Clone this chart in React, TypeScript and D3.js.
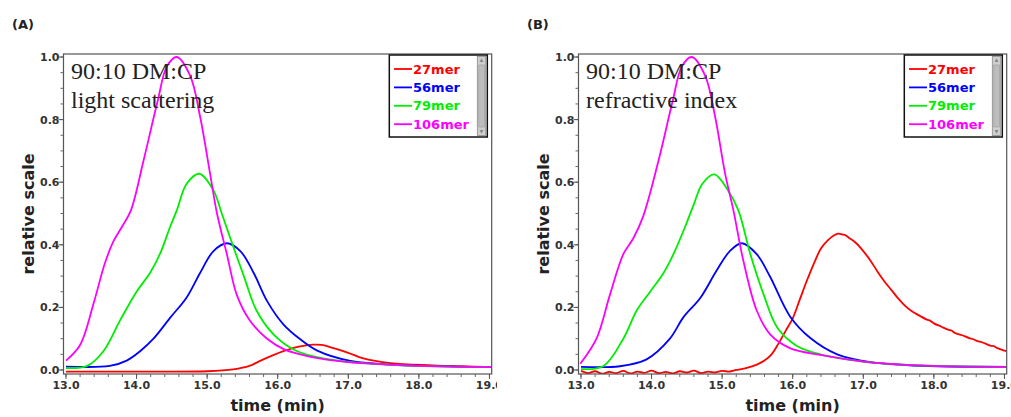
import React from 'react';
import * as d3 from 'd3';

type Pt = [number, number];

// time (min) → relative scale, light scattering (panel A)
const ls27: Pt[] = [[13.0,-0.005],[14.0,-0.005],[15.0,-0.004],[15.37,0.002],[15.6,0.013],[15.75,0.029],[16.08,0.06],[16.3,0.075],[16.5,0.081],[16.62,0.08],[16.79,0.07],[17.0,0.055],[17.2,0.038],[17.6,0.022],[18.2,0.015],[18.6,0.012],[19.03,0.009]];
const ls56: Pt[] = [[13.0,0.011],[13.62,0.013],[13.86,0.03],[14.05,0.06],[14.24,0.10],[14.48,0.168],[14.71,0.232],[14.9,0.31],[15.09,0.38],[15.28,0.405],[15.47,0.38],[15.66,0.31],[15.85,0.22],[16.08,0.146],[16.32,0.098],[16.56,0.062],[17.03,0.029],[17.5,0.019],[17.97,0.014],[18.5,0.011],[19.03,0.009]];
const ls79: Pt[] = [[13.0,0.006],[13.3,0.013],[13.53,0.06],[13.77,0.16],[14.0,0.25],[14.19,0.31],[14.33,0.37],[14.48,0.46],[14.57,0.51],[14.71,0.595],[14.89,0.627],[15.09,0.574],[15.2,0.505],[15.33,0.42],[15.52,0.30],[15.7,0.19],[15.94,0.114],[16.22,0.066],[16.46,0.046],[17.0,0.026],[17.5,0.018],[18.0,0.013],[19.03,0.009]];
const ls106: Pt[] = [[13.0,0.03],[13.2,0.08],[13.4,0.22],[13.55,0.34],[13.67,0.41],[13.8,0.46],[13.92,0.51],[14.1,0.67],[14.3,0.86],[14.43,0.97],[14.57,1.0],[14.76,0.94],[14.9,0.81],[15.04,0.63],[15.14,0.50],[15.28,0.37],[15.42,0.24],[15.6,0.16],[15.85,0.10],[16.1,0.065],[16.45,0.043],[17.0,0.025],[17.5,0.018],[18.0,0.013],[18.5,0.011],[19.03,0.009]];

// time (min) → relative scale, refractive index (panel B)
const ri27: Pt[] = [[13.0,-0.003],[13.1,-0.01],[13.2,-0.004],[13.3,-0.012],[13.4,-0.006],[13.5,-0.01],[13.6,-0.003],[13.7,-0.011],[13.8,-0.005],[13.9,-0.009],[14.0,-0.002],[14.1,-0.01],[14.2,-0.006],[14.3,-0.011],[14.4,-0.004],[14.5,-0.008],[14.6,-0.002],[14.7,-0.01],[14.8,-0.005],[14.9,-0.008],[15.0,-0.003],[15.1,-0.005],[15.2,0.0],[15.35,0.007],[15.5,0.018],[15.6,0.03],[15.7,0.05],[15.8,0.085],[15.9,0.125],[16.0,0.165],[16.1,0.225],[16.2,0.285],[16.3,0.34],[16.4,0.388],[16.5,0.415],[16.6,0.432],[16.65,0.436],[16.7,0.433],[16.75,0.43],[16.8,0.422],[16.9,0.405],[17.0,0.38],[17.1,0.35],[17.2,0.315],[17.3,0.283],[17.4,0.255],[17.5,0.227],[17.6,0.203],[17.65,0.194],[17.7,0.186],[17.8,0.173],[17.9,0.161],[17.95,0.157],[18.0,0.149],[18.1,0.139],[18.2,0.129],[18.25,0.126],[18.3,0.118],[18.4,0.111],[18.5,0.102],[18.55,0.099],[18.6,0.094],[18.7,0.087],[18.8,0.078],[18.85,0.076],[18.9,0.07],[19.0,0.062],[19.03,0.06]];
const ri56: Pt[] = [[13.0,0.01],[13.55,0.012],[13.93,0.034],[14.26,0.10],[14.45,0.168],[14.69,0.23],[14.92,0.317],[15.11,0.38],[15.28,0.405],[15.49,0.37],[15.68,0.298],[15.96,0.172],[16.25,0.102],[16.63,0.05],[17.1,0.025],[17.6,0.016],[18.05,0.012],[19.03,0.01]];
const ri79: Pt[] = [[13.0,0.003],[13.32,0.013],[13.6,0.10],[13.79,0.19],[13.98,0.25],[14.17,0.31],[14.31,0.37],[14.48,0.46],[14.6,0.53],[14.72,0.595],[14.89,0.625],[15.08,0.575],[15.23,0.51],[15.4,0.37],[15.59,0.24],[15.78,0.136],[16.06,0.077],[16.39,0.05],[17.0,0.027],[17.5,0.018],[18.0,0.013],[19.03,0.01]];
const ri106: Pt[] = [[12.99,0.02],[13.22,0.10],[13.41,0.24],[13.6,0.37],[13.74,0.42],[13.88,0.49],[14.1,0.67],[14.3,0.86],[14.43,0.97],[14.57,1.0],[14.76,0.94],[14.9,0.81],[15.04,0.63],[15.16,0.51],[15.3,0.35],[15.49,0.19],[15.68,0.114],[15.96,0.07],[16.39,0.048],[17.0,0.027],[17.5,0.018],[18.0,0.013],[19.03,0.01]];

const seriesNames = ['27mer', '56mer', '79mer', '106mer'];
const seriesColors = ['#ff0000', '#0000ff', '#00ee00', '#ff00ff'];
const xTickValues = [13, 14, 15, 16, 17, 18, 19];
const yTickValues = [0, 0.2, 0.4, 0.6, 0.8, 1.0];
const sampleName = '90:10 DM:CP';

const SANS = '"DejaVu Sans", Verdana, sans-serif';
const SERIF = '"Liberation Serif", "Times New Roman", serif';

const x = d3.scaleLinear().domain([12.965, 19.032]).range([63.5, 491.7]);
const y = d3.scaleLinear().domain([-0.0128, 1.0096]).range([374, 54]);

function Panel({ dx, tag, detector, data, clipId, clipW }: { dx: number; tag: string; detector: string; data: Pt[][]; clipId: string; clipW: number }) {
  const [x0, x1] = x.range();
  const [yb, yt] = y.range();
  const smooth = d3.line<Pt>().x(d => x(d[0])).y(d => y(d[1])).curve(d3.curveCatmullRom.alpha(0.5));
  const xMinor = d3.range(13, 19.01, 0.2);
  const yMinor = d3.range(0, 1.001, 0.05);
  const lx = 389.3, ly = 55, lw = 98, lh = 82;
  return (
    <g transform={`translate(${dx},0)`} clipPath={`url(#${clipId}-all)`}>
      <defs>
        <clipPath id={`${clipId}-all`}><rect x={-dx} y={0} width={clipW} height={417} /></clipPath>
        <clipPath id={`${clipId}-plot`}><rect x={x0} y={yt} width={x1 - x0} height={yb - yt} /></clipPath>
      </defs>
      <text x={12} y={29} fontFamily={SANS} fontWeight="bold" fontSize={13} fill="#222">{tag}</text>
      <rect x={x0} y={yt} width={x1 - x0} height={yb - yt} fill="#fff" />
      <g clipPath={`url(#${clipId}-plot)`}>
        {data.map((s, i) => (
          <path key={i} d={smooth(s) || ''} fill="none" stroke={seriesColors[i]} strokeWidth={1.8} strokeLinejoin="round" />
        ))}
      </g>
      <text x={71} y={79} fontFamily={SERIF} fontSize={24} fill="#222">{sampleName}</text>
      <text x={71} y={108} fontFamily={SERIF} fontSize={24} fill="#222">{detector}</text>
      <rect x={x0} y={yt} width={x1 - x0} height={yb - yt} fill="none" stroke="#555" strokeWidth={1.2} />
      {xMinor.map((t, i) => (
        <line key={'xm' + i} x1={x(t)} x2={x(t)} y1={yb} y2={yb + 3} stroke="#666" strokeWidth={1} />
      ))}
      {xTickValues.map(t => (
        <g key={'xt' + t}>
          <line x1={x(t)} x2={x(t)} y1={yb} y2={yb + 5} stroke="#555" strokeWidth={1} />
          <text x={x(t)} y={389} textAnchor="middle" fontFamily={SANS} fontWeight="bold" fontSize={11} fill="#333">{t.toFixed(1)}</text>
        </g>
      ))}
      {yMinor.map((v, i) => (
        <line key={'ym' + i} x1={x0 - 3} x2={x0} y1={y(v)} y2={y(v)} stroke="#666" strokeWidth={1} />
      ))}
      {yTickValues.map(v => (
        <g key={'yt' + v}>
          <line x1={x0 - 5} x2={x0} y1={y(v)} y2={y(v)} stroke="#555" strokeWidth={1} />
          <text x={x0 - 4} y={y(v) + 4} textAnchor="end" fontFamily={SANS} fontWeight="bold" fontSize={11} fill="#333">{v.toFixed(1)}</text>
        </g>
      ))}
      <text transform={`translate(34,${(yb + yt) / 2}) rotate(-90)`} textAnchor="middle" fontFamily={SANS} fontWeight="bold" fontSize={16} fill="#222">relative scale</text>
      <text x={(x0 + x1) / 2} y={411} textAnchor="middle" fontFamily={SANS} fontWeight="bold" fontSize={16} fill="#222">time (min)</text>
      <rect x={lx} y={ly} width={lw} height={lh} fill="#fff" stroke="#111" strokeWidth={1.5} />
      <rect x={lx + lw - 10} y={ly + 1.5} width={8.5} height={lh - 3} fill="#cfcfcf" stroke="#8a8a8a" strokeWidth={0.8} />
      <rect x={lx + lw - 8.5} y={ly + 10} width={5.5} height={lh - 20} fill="#bdbdbd" stroke="#9a9a9a" strokeWidth={0.6} />
      <path d={`M${lx + lw - 7.8},${ly + 7} L${lx + lw - 5.8},${ly + 3.5} L${lx + lw - 3.8},${ly + 7} Z`} fill="#888" />
      <path d={`M${lx + lw - 7.8},${ly + lh - 7} L${lx + lw - 5.8},${ly + lh - 3.5} L${lx + lw - 3.8},${ly + lh - 7} Z`} fill="#888" />
      {seriesNames.map((n, i) => {
        const ry = 69 + i * 18.4;
        return (
          <g key={n}>
            <line x1={394} x2={412} y1={ry} y2={ry} stroke={seriesColors[i]} strokeWidth={1.8} />
            <text x={413} y={ry + 4.6} fontFamily={SANS} fontWeight="bold" fontSize={13} fill={seriesColors[i]}>{n}</text>
          </g>
        );
      })}
    </g>
  );
}

export default function App() {
  return (
    <svg width={1011} height={417} style={{ position: 'absolute', left: 0, top: 0, display: 'block', background: '#fff' }}>
      <rect x={0} y={0} width={1011} height={417} fill="#fff" />
      <Panel dx={0} tag="(A)" detector="light scattering" data={[ls27, ls56, ls79, ls106]} clipId="pa" clipW={497} />
      <Panel dx={515} tag="(B)" detector="refractive index" data={[ri27, ri56, ri79, ri106]} clipId="pb" clipW={1011} />
    </svg>
  );
}
